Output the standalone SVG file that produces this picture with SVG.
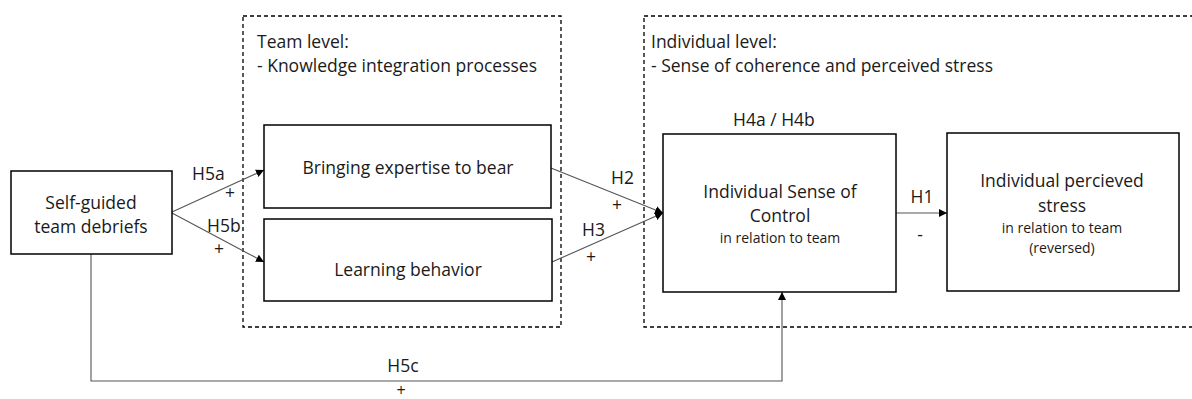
<svg xmlns="http://www.w3.org/2000/svg" width="1192" height="399" viewBox="0 0 1192 399">
<style>
text{font-family:"Open Sans","Liberation Sans",sans-serif;fill:#1a1a1a}
.t{font-size:17.5px}
.p{font-size:16px}
.s{font-size:14px}
.c{text-anchor:middle}
.box{fill:#fff;stroke:#000;stroke-width:1.5}
.dash{fill:none;stroke:#000;stroke-width:1.3;stroke-dasharray:4 3}
.con{fill:none;stroke:#555;stroke-width:1.1}
</style>
<defs>
<marker id="ah" viewBox="0 0 10 10" refX="10" refY="5" markerWidth="8" markerHeight="8" markerUnits="userSpaceOnUse" orient="auto">
<path d="M0,0 L10,5 L0,10 z" fill="#000"/>
</marker>
</defs>
<rect width="1192" height="399" fill="#fff"/>
<g id="team-level">
<rect class="dash" x="243" y="16" width="318" height="311"/>
<text class="t" x="257" y="48">Team level:</text>
<text class="t" x="257" y="72">- Knowledge integration processes</text>
</g>
<g id="individual-level">
<rect class="dash" x="644" y="16" width="560" height="311"/>
<text class="t" x="651" y="48">Individual level:</text>
<text class="t" x="651" y="72">- Sense of coherence and perceived stress</text>
<text class="t" x="733" y="126">H4a  / H4b</text>
</g>
<g id="connectors">
<line class="con" x1="172" y1="212" x2="264" y2="170" marker-end="url(#ah)"/>
<line class="con" x1="172" y1="213" x2="264" y2="262" marker-end="url(#ah)"/>
<line class="con" x1="551" y1="168" x2="663" y2="213" marker-end="url(#ah)"/>
<line class="con" x1="552" y1="262" x2="663" y2="213" marker-end="url(#ah)"/>
<line class="con" x1="896" y1="213" x2="947" y2="213" marker-end="url(#ah)"/>
<polyline class="con" points="91,254 91,381 782,381 782,292" marker-end="url(#ah)"/>
<text class="t" x="192" y="180">H5a</text>
<text class="t" x="225" y="199">+</text>
<text class="t" x="207" y="232">H5b</text>
<text class="t" x="214" y="255">+</text>
<text class="t" x="611" y="184">H2</text>
<text class="t" x="612" y="211">+</text>
<text class="t" x="582" y="236">H3</text>
<text class="t" x="586" y="263">+</text>
<text class="t c" x="922" y="203">H1</text>
<text class="t c" x="920" y="241">-</text>
<text class="t c" x="403" y="372">H5c</text>
<text class="p c" x="401" y="396">+</text>
</g>
<g id="self-guided">
<rect class="box" x="11" y="171" width="161" height="83"/>
<text class="t c" x="91" y="209">Self-guided</text>
<text class="t c" x="91" y="233">team debriefs</text>
</g>
<g id="bringing-expertise">
<rect class="box" x="264" y="125" width="287" height="83"/>
<text class="t c" x="408" y="174">Bringing expertise to bear</text>
</g>
<g id="learning-behavior">
<rect class="box" x="264" y="219" width="288" height="82"/>
<text class="t c" x="408" y="276">Learning behavior</text>
</g>
<g id="sense-of-control">
<rect class="box" x="663" y="134" width="233" height="158"/>
<text class="t c" x="780" y="198">Individual Sense of</text>
<text class="t c" x="780" y="222">Control</text>
<text class="s c" x="780" y="243">in relation to team</text>
</g>
<g id="perceived-stress">
<rect class="box" x="947" y="133" width="232" height="158"/>
<text class="t c" x="1062" y="187">Individual percieved</text>
<text class="t c" x="1062" y="212">stress</text>
<text class="s c" x="1062" y="233">in relation to team</text>
<text class="s c" x="1062" y="253">(reversed)</text>
</g>
</svg>
